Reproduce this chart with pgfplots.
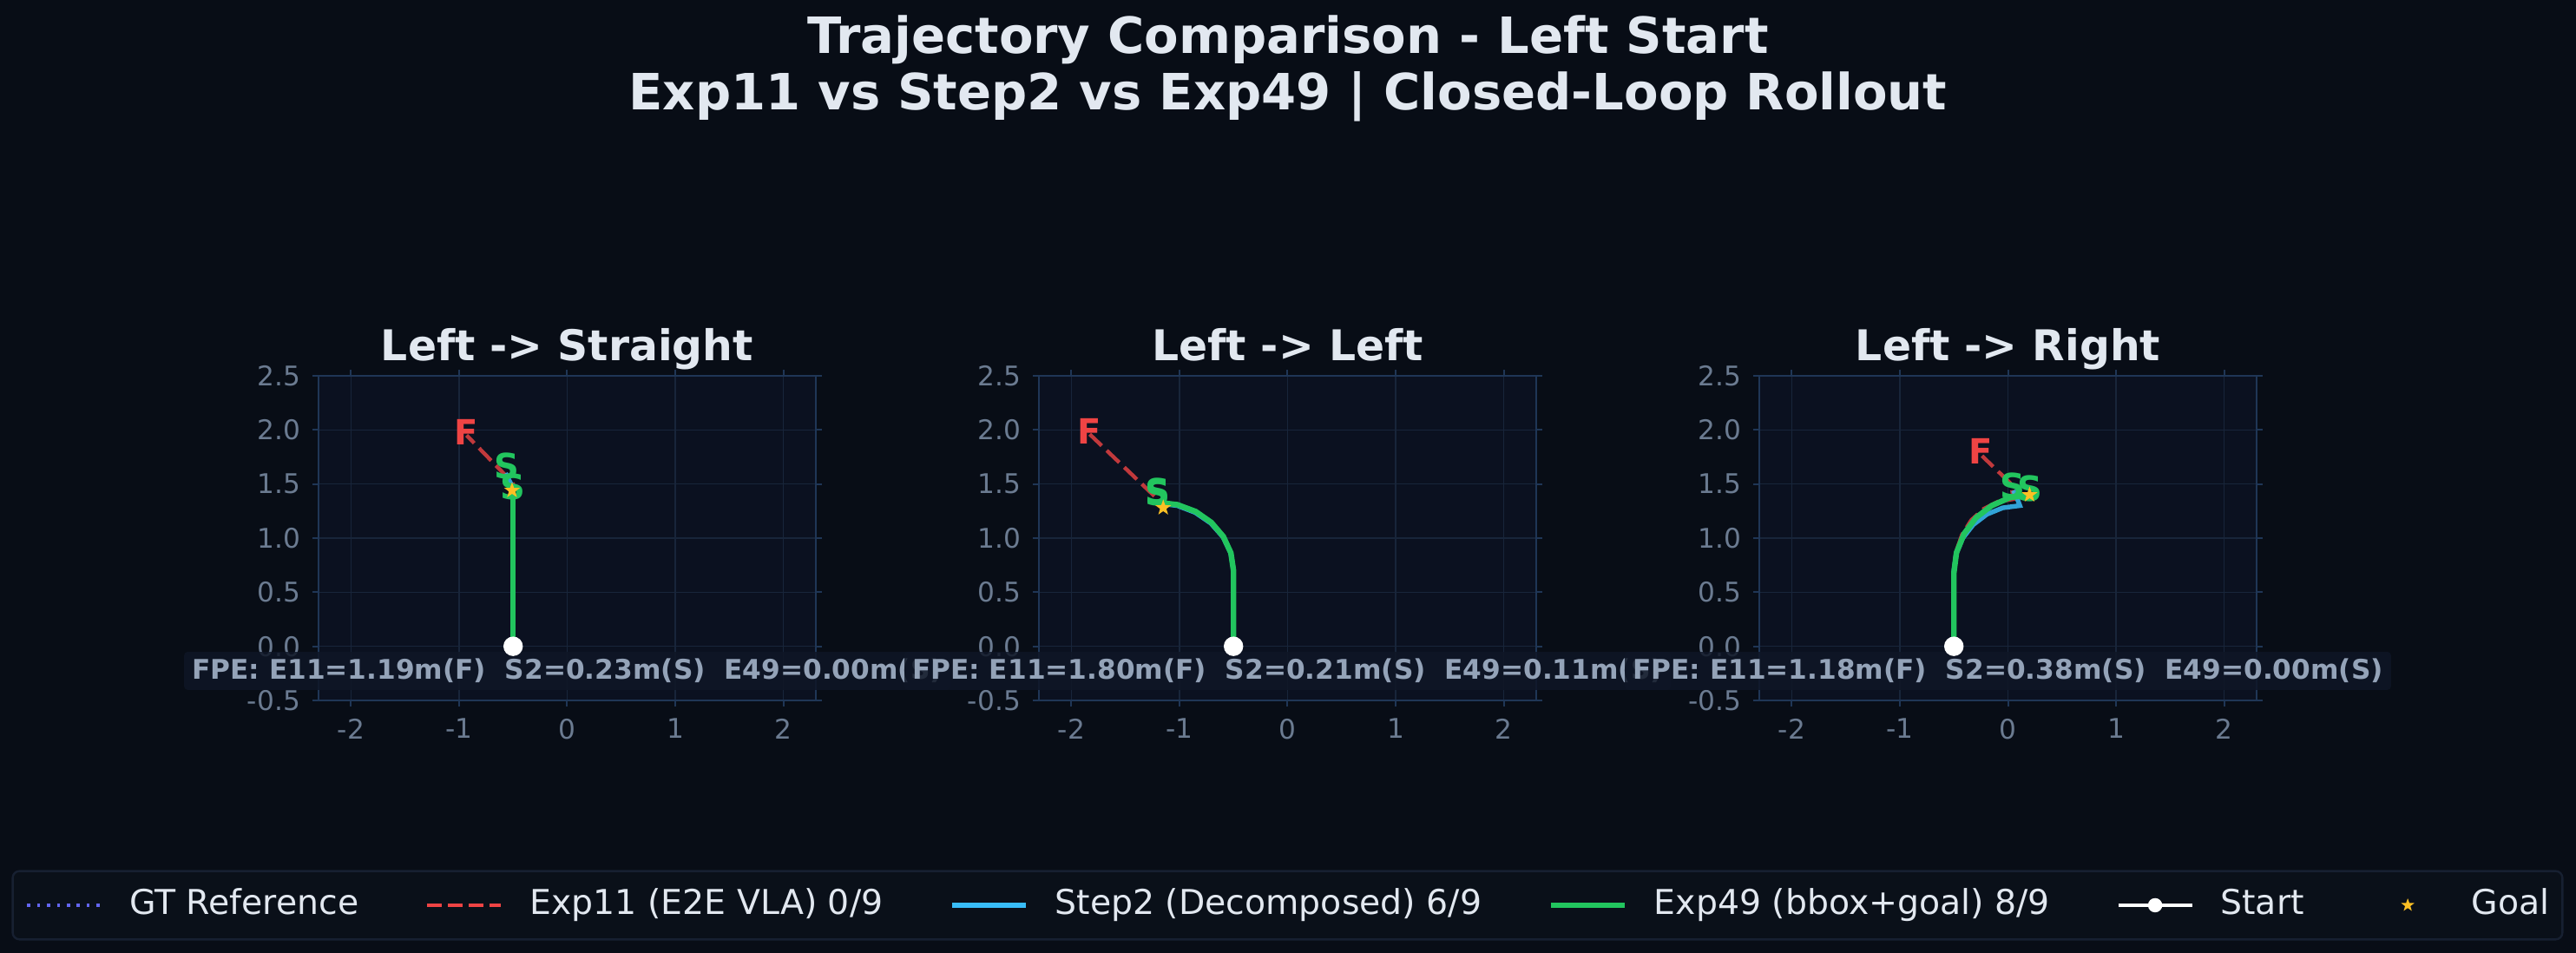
\documentclass[border=0pt]{standalone}
\usepackage{fontspec}
\setmainfont{DejaVu Sans}
\usepackage{pgfplots}
\pgfplotsset{compat=1.18}

\definecolor{figbg}{HTML}{080D16}
\definecolor{axbg}{HTML}{0B1120}
\definecolor{spinecol}{HTML}{1F3656}
\definecolor{gridcol}{HTML}{18253A}
\definecolor{tickcol}{HTML}{6B7B91}
\definecolor{titlecol}{HTML}{E2E8F0}
\definecolor{fpetext}{HTML}{94A3B8}
\definecolor{fpebg}{HTML}{0F1626}
\definecolor{legbg}{HTML}{0A1019}
\definecolor{legframe}{HTML}{172031}
\definecolor{gtcol}{HTML}{6366F1}
\definecolor{e11col}{HTML}{EF4444}
\definecolor{s2col}{HTML}{38BDF8}
\definecolor{e49col}{HTML}{22C55E}
\definecolor{goalcol}{HTML}{FBBF24}

% filled five-point star
\pgfdeclareplotmark{fstar}{%
  \pgfpathmoveto{\pgfpointpolar{90}{\pgfplotmarksize}}%
  \pgfpathlineto{\pgfpointpolar{126}{0.4\pgfplotmarksize}}%
  \pgfpathlineto{\pgfpointpolar{162}{\pgfplotmarksize}}%
  \pgfpathlineto{\pgfpointpolar{198}{0.4\pgfplotmarksize}}%
  \pgfpathlineto{\pgfpointpolar{234}{\pgfplotmarksize}}%
  \pgfpathlineto{\pgfpointpolar{270}{0.4\pgfplotmarksize}}%
  \pgfpathlineto{\pgfpointpolar{306}{\pgfplotmarksize}}%
  \pgfpathlineto{\pgfpointpolar{342}{0.4\pgfplotmarksize}}%
  \pgfpathlineto{\pgfpointpolar{18}{\pgfplotmarksize}}%
  \pgfpathlineto{\pgfpointpolar{54}{0.4\pgfplotmarksize}}%
  \pgfpathclose
  \pgfusepathqfill
}

\pgfplotsset{
  trajaxis/.style={
    width=143.25pt, height=93.5pt, scale only axis,
    anchor=south west,
    xmin=-2.3, xmax=2.3, ymin=-0.5, ymax=2.5,
    xtick={-2,-1,0,1,2},
    ytick={-0.5,0,0.5,1,1.5,2,2.5},
    axis background/.style={fill=axbg},
    axis line style={spinecol, line width=0.5pt},
    grid=major,
    major grid style={gridcol, line width=0.35pt},
    tick align=outside,
    major tick length=1.75pt,
    tick style={spinecol, line width=0.5pt},
    /pgf/number format/assume math mode=true,
    ticklabel style={font=\fontsize{7.8}{9}\selectfont, text=tickcol},
    yticklabel style={/pgf/number format/fixed, /pgf/number format/fixed zerofill, /pgf/number format/precision=1},
    every axis title shift=0pt,
    title style={at={(0.5,1)}, anchor=base, yshift=4.25pt,
      font=\bfseries\fontsize{12.2}{14}\selectfont, text=titlecol},
    clip=false,
  },
  gtline/.style={gtcol, line width=0.6pt, dash pattern=on 0.6pt off 1.8pt, forget plot},
  e11line/.style={e11col, opacity=0.8, line width=1.1pt, dash pattern=on 5pt off 2pt, forget plot},
  s2line/.style={s2col, opacity=0.85, line width=1.35pt, forget plot},
  e49line/.style={e49col, line width=1.6pt, forget plot},
  startmark/.style={only marks, mark=*, mark size=2.6pt, color=white, forget plot},
  goalmark/.style={only marks, mark=fstar, mark size=2.4pt, color=goalcol, forget plot},
}
\tikzset{
  flabel/.style={text=e11col, font=\bfseries\fontsize{10}{12}\selectfont, inner sep=0pt},
  slabel/.style={text=e49col, font=\bfseries\fontsize{10}{12}\selectfont, inner sep=0pt},
  fpebox/.style={fill=fpebg, fill opacity=0.85, text opacity=1, text=fpetext,
    font=\bfseries\fontsize{7.8}{9}\selectfont, inner xsep=2.25pt, inner ysep=2pt,
    rounded corners=1pt},
}

\begin{document}
\begin{tikzpicture}
\fill[figbg] (0,0) rectangle (742pt,274.5pt);
\useasboundingbox (0,0) rectangle (742pt,274.5pt);

\node[anchor=base, text=titlecol, font=\bfseries\fontsize{14.4}{17}\selectfont]
  at (371pt,259pt) {Trajectory Comparison - Left Start};
\node[anchor=base, text=titlecol, font=\bfseries\fontsize{14.4}{17}\selectfont]
  at (371pt,242.75pt) {Exp11 vs Step2 vs Exp49 | Closed-Loop Rollout};

% ---- Left -> Straight
\begin{axis}[trajaxis, at={(91.75pt,72.75pt)}, title={Left -> Straight}]
\addplot[gtline] coordinates {(-0.5,0) (-0.5,1.44)};
\addplot[e11line] coordinates {(-0.5,0) (-0.5,1.50) (-0.58,1.59) (-0.93,1.95)};
\addplot[s2line] coordinates {(-0.5,0) (-0.5,1.46) (-0.57,1.60)};
\addplot[e49line] coordinates {(-0.5,0) (-0.5,1.44)};
\addplot[startmark] coordinates {(-0.5,0)};
\addplot[goalmark] coordinates {(-0.51,1.44)};
\node[flabel] at (axis cs:-0.93,1.98) {F};
\node[slabel] at (axis cs:-0.56,1.665) {S};
\node[slabel] at (axis cs:-0.50,1.475) {S};
\node[fpebox] at (axis cs:0,-0.227) {FPE: E11=1.19m(F)\ \ S2=0.23m(S)\ \ E49=0.00m(S)};
\end{axis}

% ---- Left -> Left
\begin{axis}[trajaxis, at={(299.25pt,72.75pt)}, title={Left -> Left},
  legend columns=6,
  legend image code/.code={
    \path[draw=none, fill=none] (0pt,-2pt) rectangle (21.25pt,2pt);
    \draw[rounded corners=0pt, mark repeat=2,mark phase=2,#1] plot coordinates {(0pt,0pt) (10.625pt,0pt) (21.25pt,0pt)};},
  legend style={at={(0.5,-0.631)}, anchor=center, draw=legframe, fill=legbg,
    rounded corners=2pt, line width=0.6pt, text=titlecol,
    font=\fontsize{9.85}{12}\selectfont,
    inner xsep=3.75pt, inner ysep=5pt,
    nodes={inner sep=0pt, text height=7.4pt, text depth=2.3pt},
    /tikz/every odd column/.append style={column sep=7.75pt},
    /tikz/every even column/.append style={column sep=19.25pt}},
  legend cell align=left]
\addplot[gtline] coordinates {(-0.5,0) (-0.5,0.70) (-0.524,0.863) (-0.594,1.015) (-0.705,1.145) (-0.85,1.246) (-1.019,1.309) (-1.15,1.30)};
\addplot[e11line] coordinates {(-0.5,0) (-0.5,0.70) (-0.524,0.863) (-0.594,1.015) (-0.705,1.145) (-0.85,1.246) (-1.019,1.309) (-1.17,1.33) (-1.83,1.96)};
\addplot[s2line] coordinates {(-0.5,0) (-0.5,0.70) (-0.525,0.86) (-0.597,1.01) (-0.71,1.138) (-0.855,1.237) (-1.02,1.30) (-1.2,1.322) (-1.22,1.33)};
\addplot[e49line] coordinates {(-0.5,0) (-0.5,0.70) (-0.524,0.863) (-0.594,1.015) (-0.705,1.145) (-0.85,1.246) (-1.019,1.309) (-1.2,1.33) (-1.22,1.33)};
\addplot[startmark] coordinates {(-0.5,0)};
\addplot[goalmark] coordinates {(-1.15,1.28)};
\node[flabel] at (axis cs:-1.83,1.99) {F};
\node[slabel] at (axis cs:-1.20,1.43) {S};
\node[slabel] at (axis cs:-1.20,1.42) {S};
\node[fpebox] at (axis cs:0,-0.227) {FPE: E11=1.80m(F)\ \ S2=0.21m(S)\ \ E49=0.11m(S)};

\addlegendimage{color=gtcol, line width=0.9pt, dash pattern=on 0.9pt off 1.95pt}
\addlegendentry{GT Reference}
\addlegendimage{color=e11col, line width=1.1pt, dash pattern=on 4.25pt off 1.75pt}
\addlegendentry{Exp11 (E2E VLA) 0/9}
\addlegendimage{color=s2col, line width=1.3pt}
\addlegendentry{Step2 (Decomposed) 6/9}
\addlegendimage{color=e49col, line width=1.4pt}
\addlegendentry{Exp49 (bbox+goal) 8/9}
\addlegendimage{color=white, line width=0.9pt, mark=*, mark size=1.6pt, mark options={solid, fill=white}}
\addlegendentry{Start}
\addlegendimage{only marks, mark=fstar, mark size=2pt, color=goalcol}
\addlegendentry{Goal}
\end{axis}

% ---- Left -> Right
\begin{axis}[trajaxis, at={(506.75pt,72.75pt)}, title={Left -> Right}]
\addplot[gtline] coordinates {(-0.5,0) (-0.5,0.68) (-0.476,0.866) (-0.406,1.04) (-0.295,1.189) (-0.15,1.30) (0.019,1.375) (0.2,1.40)};
\addplot[e11line] coordinates {(-0.5,0) (-0.5,0.70) (-0.481,0.871) (-0.426,1.03) (-0.339,1.167) (-0.225,1.27) (-0.092,1.337) (0.05,1.36) (0.03,1.50) (-0.24,1.76)};
\addplot[s2line] coordinates {(-0.5,0) (-0.5,0.70) (-0.479,0.855) (-0.418,1.0) (-0.321,1.124) (-0.195,1.22) (-0.048,1.28) (0.11,1.30) (0.08,1.38) (0.05,1.44)};
\addplot[e49line] coordinates {(-0.5,0) (-0.5,0.68) (-0.476,0.866) (-0.406,1.04) (-0.295,1.189) (-0.15,1.30) (0.019,1.375) (0.2,1.40)};
\addplot[startmark] coordinates {(-0.5,0)};
\addplot[goalmark] coordinates {(0.2,1.40)};
\node[flabel] at (axis cs:-0.25,1.80) {F};
\node[slabel] at (axis cs:0.04,1.48) {S};
\node[slabel] at (axis cs:0.20,1.46) {S};
\node[fpebox] at (axis cs:0,-0.227) {FPE: E11=1.18m(F)\ \ S2=0.38m(S)\ \ E49=0.00m(S)};
\end{axis}
\end{tikzpicture}
\end{document}
